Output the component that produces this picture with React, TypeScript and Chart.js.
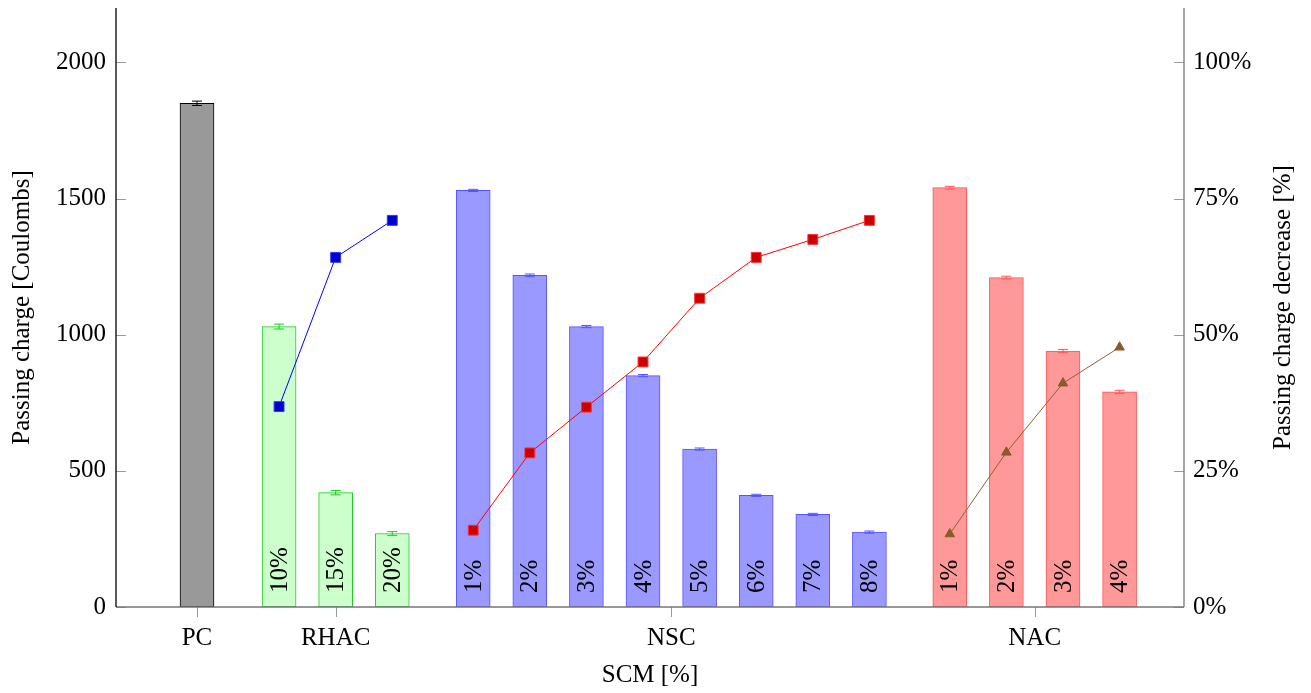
import React, { useEffect, useRef } from 'react';
import { Chart, registerables } from 'chart.js';

Chart.register(...registerables);

// ---- data ----
const groupLabels = ['PC', 'RHAC', 'NSC', 'NAC'];
const groupTickX = [0, 2.45, 8.38, 14.8];

const pcX = [0];
const pcValues = [1850];
const pcErrors = [8];

const rhacX = [1.45, 2.45, 3.45];
const rhacLabels = ['10%', '15%', '20%'];
const rhacValues = [1030, 420, 270];
const rhacErrors = [9, 8, 7];
const rhacDecrease = [36.8, 64.2, 71.0];

const nscX = [4.88, 5.88, 6.88, 7.88, 8.88, 9.88, 10.88, 11.88];
const nscLabels = ['1%', '2%', '3%', '4%', '5%', '6%', '7%', '8%'];
const nscValues = [1530, 1218, 1030, 850, 580, 410, 340, 275];
const nscErrors = [4, 5, 4, 4, 4, 4, 4, 4];
const nscDecrease = [14.1, 28.3, 36.7, 45.0, 56.7, 64.2, 67.5, 71.0];

const nacX = [13.3, 14.3, 15.3, 16.3];
const nacLabels = ['1%', '2%', '3%', '4%'];
const nacValues = [1540, 1210, 940, 790];
const nacErrors = [5, 5, 6, 6];
const nacDecrease = [13.4, 28.4, 41.1, 47.7];

const leftTicks = [0, 500, 1000, 1500, 2000];
const rightTicks = [0, 25, 50, 75, 100];

const FONT = '"Liberation Serif", "Times New Roman", serif';

const pts = (xs: number[], ys: number[]) => xs.map((x, i) => ({ x, y: ys[i] }));

const overlay = {
  id: 'overlay',
  afterDatasetDraw(chart: any, args: any) {
    const ds: any = chart.data.datasets[args.index];
    if (ds.type !== 'bar') return;
    const ctx = chart.ctx;
    const ys = chart.scales.y;
    const area = chart.chartArea;
    ctx.save();
    args.meta.data.forEach((el: any, i: number) => {
      const v = ds.data[i].y;
      const e = ds.errors ? ds.errors[i] : 0;
      const cx = el.x;
      const yTop = ys.getPixelForValue(v + e);
      const yBot = ys.getPixelForValue(v - e);
      ctx.strokeStyle = ds.borderColor;
      ctx.lineWidth = 1;
      ctx.beginPath();
      ctx.moveTo(cx, yTop);
      ctx.lineTo(cx, yBot);
      ctx.moveTo(cx - 5, yTop);
      ctx.lineTo(cx + 5, yTop);
      ctx.moveTo(cx - 5, yBot);
      ctx.lineTo(cx + 5, yBot);
      ctx.stroke();
      if (ds.barLabels) {
        ctx.save();
        ctx.translate(cx + 1, area.bottom - 14);
        ctx.rotate(-Math.PI / 2);
        ctx.fillStyle = '#000';
        ctx.font = `25px ${FONT}`;
        ctx.textAlign = 'left';
        ctx.textBaseline = 'middle';
        ctx.fillText(ds.barLabels[i], 0, 0);
        ctx.restore();
      }
    });
    ctx.restore();
  },
  afterDraw(chart: any) {
    const ctx = chart.ctx;
    const { left, right, top, bottom } = chart.chartArea;
    const xs = chart.scales.x;
    const ys = chart.scales.y;
    const y1 = chart.scales.y1;
    ctx.save();
    // ticks
    ctx.strokeStyle = '#9a9a9a';
    ctx.lineWidth = 1;
    ctx.beginPath();
    leftTicks.forEach((t) => {
      const p = Math.round(ys.getPixelForValue(t)) + 0.5;
      ctx.moveTo(left, p);
      ctx.lineTo(left + 10, p);
    });
    rightTicks.forEach((t) => {
      const p = Math.round(y1.getPixelForValue(t)) + 0.5;
      ctx.moveTo(right - 10, p);
      ctx.lineTo(right, p);
    });
    groupTickX.forEach((t) => {
      const p = Math.round(xs.getPixelForValue(t)) + 0.5;
      ctx.moveTo(p, bottom);
      ctx.lineTo(p, bottom + 10);
    });
    ctx.stroke();
    // axis lines
    ctx.lineWidth = 1.3;
    ctx.strokeStyle = '#777';
    ctx.beginPath();
    ctx.moveTo(left, bottom);
    ctx.lineTo(right, bottom);
    ctx.moveTo(right, top);
    ctx.lineTo(right, bottom);
    ctx.stroke();
    ctx.strokeStyle = '#000';
    ctx.beginPath();
    ctx.moveTo(left, top);
    ctx.lineTo(left, bottom);
    ctx.stroke();
    // titles
    ctx.fillStyle = '#000';
    ctx.font = `25px ${FONT}`;
    ctx.textAlign = 'center';
    ctx.textBaseline = 'middle';
    const midY = (top + bottom) / 2;
    ctx.save();
    ctx.translate(22, midY);
    ctx.rotate(-Math.PI / 2);
    ctx.fillText('Passing charge [Coulombs]', 0, 0);
    ctx.restore();
    ctx.save();
    ctx.translate(1283, midY);
    ctx.rotate(-Math.PI / 2);
    ctx.fillText('Passing charge decrease [%]', 0, 0);
    ctx.restore();
    ctx.fillText('SCM [%]', (left + right) / 2, 675);
    ctx.restore();
  },
};

export default function App() {
  const ref = useRef<HTMLCanvasElement | null>(null);
  useEffect(() => {
    if (!ref.current) return;
    const barCommon = {
      type: 'bar' as const,
      yAxisID: 'y',
      grouped: false,
      borderWidth: 1,
      borderSkipped: false,
      maxBarThickness: 34,
      barPercentage: 1,
      categoryPercentage: 1,
      order: 2,
    };
    const lineCommon = {
      type: 'line' as const,
      yAxisID: 'y1',
      borderWidth: 1,
      pointBorderWidth: 1,
      order: 0,
      tension: 0,
      fill: false,
    };
    const noPadV = (s: any) => {
      s.paddingTop = 0;
      s.paddingBottom = 0;
    };
    const chart = new Chart(ref.current, {
      type: 'bar',
      data: {
        datasets: [
          { ...barCommon, data: pts(pcX, pcValues), errors: pcErrors, backgroundColor: '#999999', borderColor: '#000000' } as any,
          { ...barCommon, data: pts(rhacX, rhacValues), errors: rhacErrors, barLabels: rhacLabels, backgroundColor: '#ccffcc', borderColor: '#1fcc1f' } as any,
          { ...barCommon, data: pts(nscX, nscValues), errors: nscErrors, barLabels: nscLabels, backgroundColor: '#9999ff', borderColor: '#5555ff' } as any,
          { ...barCommon, data: pts(nacX, nacValues), errors: nacErrors, barLabels: nacLabels, backgroundColor: '#ff9999', borderColor: '#ff5555' } as any,
          { ...lineCommon, data: pts(rhacX, rhacDecrease), borderColor: '#0000ff', pointBackgroundColor: '#0000cc', pointBorderColor: '#3333ff', pointStyle: 'rect', pointRadius: 7 } as any,
          { ...lineCommon, data: pts(nscX, nscDecrease), borderColor: '#ff0000', pointBackgroundColor: '#cc0000', pointBorderColor: '#ff3333', pointStyle: 'rect', pointRadius: 7 } as any,
          { ...lineCommon, data: pts(nacX, nacDecrease), borderColor: '#8f6030', pointBackgroundColor: '#8a5a28', pointBorderColor: '#8a5a28', pointStyle: 'triangle', pointRadius: 5.5 } as any,
        ],
      },
      options: {
        responsive: false,
        devicePixelRatio: 1,
        animation: false,
        layout: { padding: { top: 8, left: 0, right: 0, bottom: 0 } },
        plugins: { legend: { display: false }, tooltip: { enabled: false } },
        scales: {
          x: {
            type: 'linear',
            offset: false,
            min: -1.431,
            max: 17.438,
            bounds: 'data',
            grid: { display: false, drawTicks: false, offset: false },
            border: { display: false },
            afterBuildTicks: (s: any) => {
              s.ticks = groupTickX.map((v) => ({ value: v }));
            },
            afterFit: (s: any) => {
              s.height = 86;
              s.paddingLeft = 0;
              s.paddingRight = 0;
            },
            ticks: {
              autoSkip: false,
              maxRotation: 0,
              padding: 16,
              color: '#000',
              font: { family: FONT, size: 25 },
              callback: (_v: any, i: number) => groupLabels[i],
            },
          },
          y: {
            type: 'linear',
            position: 'left',
            min: 0,
            max: 2200,
            grid: { display: false, drawTicks: false },
            border: { display: false },
            afterBuildTicks: (s: any) => {
              s.ticks = leftTicks.map((v) => ({ value: v }));
            },
            afterFit: (s: any) => {
              s.width = 116;
              noPadV(s);
            },
            ticks: {
              padding: 10,
              color: '#000',
              font: { family: FONT, size: 25 },
              callback: (v: any) => String(v),
            },
          },
          y1: {
            type: 'linear',
            position: 'right',
            min: 0,
            max: 110,
            grid: { display: false, drawTicks: false },
            border: { display: false },
            afterBuildTicks: (s: any) => {
              s.ticks = rightTicks.map((v) => ({ value: v }));
            },
            afterFit: (s: any) => {
              s.width = 127;
              noPadV(s);
            },
            ticks: {
              padding: 9,
              color: '#000',
              font: { family: FONT, size: 25 },
              callback: (v: any) => v + '%',
            },
          },
        },
      } as any,
      plugins: [overlay],
    });
    return () => chart.destroy();
  }, []);
  return (
    <div style={{ position: 'fixed', left: 0, top: 0, width: 1311, height: 693, background: '#fff' }}>
      <canvas ref={ref} width={1311} height={693} style={{ width: 1311, height: 693 }} />
    </div>
  );
}
